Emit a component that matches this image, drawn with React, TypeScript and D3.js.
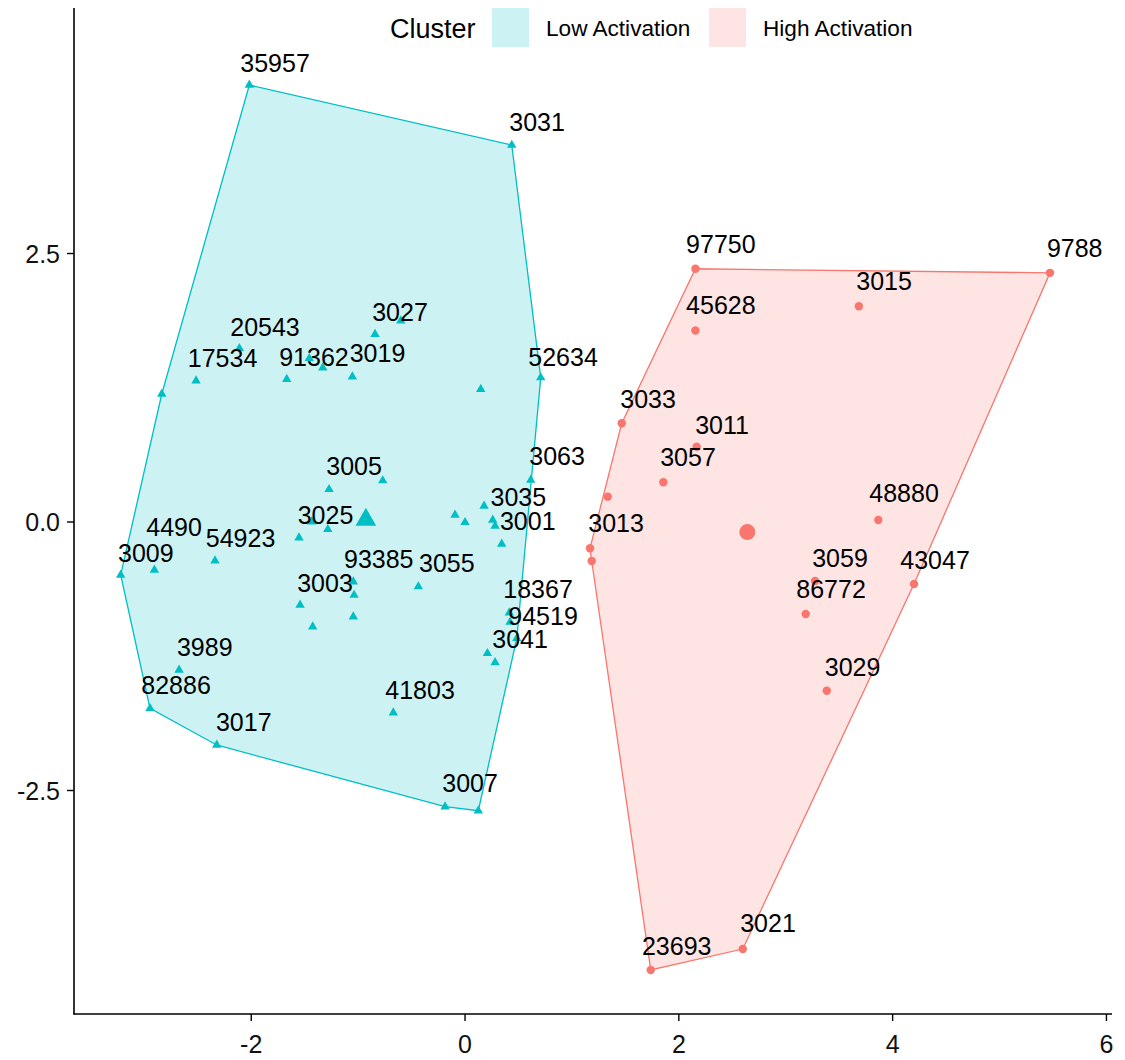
import React from "react";
import * as d3 from "d3";

// Cluster names and their ggplot-style hues
const clusterNames = ["Low Activation", "High Activation"];
const clusterColors = ["#00BFC4", "#F8766D"];

// Low Activation cluster: sample ids and coordinates (Dim1, Dim2)
const lowIds = [
  "35957", "3031", "52634", "3063", "", "17534", "20543", "91362", "", "", "3019", "", "3027", "",
  "3005", "", "3025", "", "", "", "", "3035", "3001", "", "", "54923", "4490", "3009", "93385", "",
  "3003", "", "", "3055", "18367", "94519", "3041", "", "", "3989", "82886", "3017", "41803", "3007", "",
];
const lowX = [
  -2.018, 0.437, 0.708, 0.615, -2.837, -2.516, -2.111, -1.457, -1.331, -1.668, -1.054, -0.842, -0.601, 0.147,
  -1.272, -0.77, -1.434, -1.284, -1.553, -0.094, 0.0, 0.178, 0.259, 0.281, 0.343, -2.339, -2.906, -3.221, -1.045, -1.038,
  -1.543, -1.045, -1.425, -0.437, 0.414, 0.421, 0.484, 0.209, 0.281, -2.675, -2.947, -2.323, -0.671, -0.187, 0.124,
];
const lowY = [
  4.069, 3.51, 1.344, 0.391, 1.192, 1.316, 1.617, 1.524, 1.437, 1.329, 1.353, 1.748, 1.874, 1.236,
  0.304, 0.385, 0.003, -0.068, -0.146, 0.065, -0.003, 0.149, 0.019, -0.037, -0.205, -0.36, -0.447, -0.493, -0.556, -0.68,
  -0.773, -0.882, -0.975, -0.602, -0.845, -0.931, -1.083, -1.223, -1.308, -1.378, -1.735, -2.076, -1.776, -2.651, -2.688,
];

// High Activation cluster
const highIds = [
  "97750", "9788", "3015", "45628", "3033", "3011", "3057", "", "3013", "", "48880", "3059", "86772", "43047",
  "3029", "3021", "23693",
];
const highX = [
  2.155, 5.472, 3.684, 2.155, 1.466, 2.167, 1.855, 1.335, 1.169, 1.185, 3.866, 3.274, 3.187, 4.2, 3.384, 2.598, 1.737,
];
const highY = [
  2.358, 2.32, 2.009, 1.783, 0.919, 0.701, 0.37, 0.236, -0.245, -0.363, 0.019, -0.549, -0.857, -0.577, -1.571, -3.976,
  -4.171,
];

// Repelled label anchors (data units): [text, x, y]
const lowLabels: [string, number, number][] = [
  ["35957", -1.777, 4.277], ["3031", 0.674, 3.727], ["52634", 0.917, 1.539], ["3063", 0.861, 0.615],
  ["20543", -1.871, 1.818], ["17534", -2.268, 1.524], ["91362", -1.413, 1.539], ["3019", -0.819, 1.571],
  ["3027", -0.608, 1.958], ["3005", -1.038, 0.521], ["3025", -1.305, 0.065], ["3035", 0.499, 0.236],
  ["3001", 0.587, 0.012], ["4490", -2.722, -0.049], ["54923", -2.1, -0.152], ["3009", -2.986, -0.286],
  ["93385", -0.807, -0.347], ["3055", -0.17, -0.379], ["3003", -1.31, -0.571], ["18367", 0.683, -0.627],
  ["94519", 0.73, -0.872], ["3041", 0.515, -1.092], ["3989", -2.435, -1.161], ["82886", -2.703, -1.518],
  ["3017", -2.07, -1.859], ["41803", -0.421, -1.564], ["3007", 0.047, -2.433],
];
const highLabels: [string, number, number][] = [
  ["97750", 2.393, 2.586], ["9788", 5.703, 2.553], ["3015", 3.92, 2.246], ["45628", 2.393, 2.019],
  ["3033", 1.712, 1.145], ["3011", 2.404, 0.903], ["3057", 2.086, 0.605], ["48880", 4.107, 0.27],
  ["3013", 1.413, -0.009], ["3059", 3.508, -0.335], ["43047", 4.397, -0.354], ["86772", 3.424, -0.624],
  ["3029", 3.625, -1.347], ["3021", 2.834, -3.731], ["23693", 1.98, -3.948],
];

const xTicks = [-2, 0, 2, 4, 6];
const yTicks = [-2.5, 0, 2.5];
const yTickLabels = ["-2.5", "0.0", "2.5"];

const FONT = "'Liberation Sans', Arial, sans-serif";

export default function App() {
  const W = 1125;
  const H = 1060;
  const left = 74;
  const right = 1112;
  const top = 8;
  const bottom = 1014;

  const x = d3.scaleLinear().domain([-3.658, 6.052]).range([left, right]);
  const y = d3.scaleLinear().domain([-4.581, 4.786]).range([bottom, top]);

  const groups = [
    { name: clusterNames[0], color: clusterColors[0], ids: lowIds, xs: lowX, ys: lowY, labels: lowLabels, shape: "tri" },
    { name: clusterNames[1], color: clusterColors[1], ids: highIds, xs: highX, ys: highY, labels: highLabels, shape: "dot" },
  ];

  const triSmall = d3.symbol().type(d3.symbolTriangle).size(38)();
  const triBig = d3.symbol().type(d3.symbolTriangle).size(185)();

  return (
    <svg
      width={W}
      height={H}
      style={{ position: "absolute", left: 0, top: 0, background: "#fff" }}
      fontFamily={FONT}
    >
      <rect x={0} y={0} width={W} height={H} fill="#fff" />

      {/* convex hulls */}
      {groups.map((g) => {
        const pts: [number, number][] = g.xs.map((v, i) => [x(v), y(g.ys[i])]);
        const hull = d3.polygonHull(pts) || [];
        return (
          <path
            key={"hull-" + g.name}
            d={"M" + hull.map((p) => p.join(",")).join("L") + "Z"}
            fill={g.color}
            fillOpacity={0.2}
            stroke={g.color}
            strokeWidth={1.3}
          />
        );
      })}

      {/* observations */}
      {groups.map((g) =>
        g.xs.map((v, i) =>
          g.shape === "tri" ? (
            <path key={g.name + i} d={triSmall} transform={`translate(${x(v)},${y(g.ys[i])})`} fill={g.color} />
          ) : (
            <circle key={g.name + i} cx={x(v)} cy={y(g.ys[i])} r={4.2} fill={g.color} />
          )
        )
      )}

      {/* cluster centres */}
      {groups.map((g) => {
        const mx = d3.mean(g.xs) as number;
        const my = d3.mean(g.ys) as number;
        return g.shape === "tri" ? (
          <path key={"c-" + g.name} d={triBig} transform={`translate(${x(mx)},${y(my)})`} fill={g.color} />
        ) : (
          <circle key={"c-" + g.name} cx={x(mx)} cy={y(my)} r={8} fill={g.color} />
        );
      })}

      {/* sample labels */}
      {groups.map((g) =>
        g.labels.map(([t, lx, ly]) => (
          <text
            key={"l-" + g.name + t}
            x={x(lx)}
            y={y(ly)}
            textAnchor="middle"
            dominantBaseline="central"
            fontSize={25}
            fill="#000"
          >
            {t}
          </text>
        ))
      )}

      {/* axes */}
      <line x1={left} x2={left} y1={top} y2={bottom + 0.5} stroke="#000" strokeWidth={1.6} />
      <line x1={left - 0.5} x2={right} y1={bottom} y2={bottom} stroke="#000" strokeWidth={1.6} />
      {xTicks.map((t) => (
        <g key={"xt" + t}>
          <line x1={x(t)} x2={x(t)} y1={bottom} y2={bottom + 7} stroke="#000" strokeWidth={1.4} />
          <text x={x(t)} y={bottom + 30} textAnchor="middle" dominantBaseline="central" fontSize={25} fill="#111">
            {String(t)}
          </text>
        </g>
      ))}
      {yTicks.map((t, i) => (
        <g key={"yt" + t}>
          <line x1={left - 7} x2={left} y1={y(t)} y2={y(t)} stroke="#000" strokeWidth={1.4} />
          <text x={left - 14} y={y(t)} textAnchor="end" dominantBaseline="central" fontSize={25} fill="#111">
            {yTickLabels[i]}
          </text>
        </g>
      ))}

      {/* legend */}
      <g>
        <text x={390} y={29} dominantBaseline="central" fontSize={27} fill="#000">
          Cluster
        </text>
        <rect x={492} y={8} width={37} height={39} fill={clusterColors[0]} fillOpacity={0.2} />
        <text x={546} y={28} dominantBaseline="central" fontSize={22.6} fill="#000">
          {clusterNames[0]}
        </text>
        <rect x={709} y={8} width={37} height={39} fill={clusterColors[1]} fillOpacity={0.2} />
        <text x={763} y={28} dominantBaseline="central" fontSize={22.6} fill="#000">
          {clusterNames[1]}
        </text>
      </g>
    </svg>
  );
}
